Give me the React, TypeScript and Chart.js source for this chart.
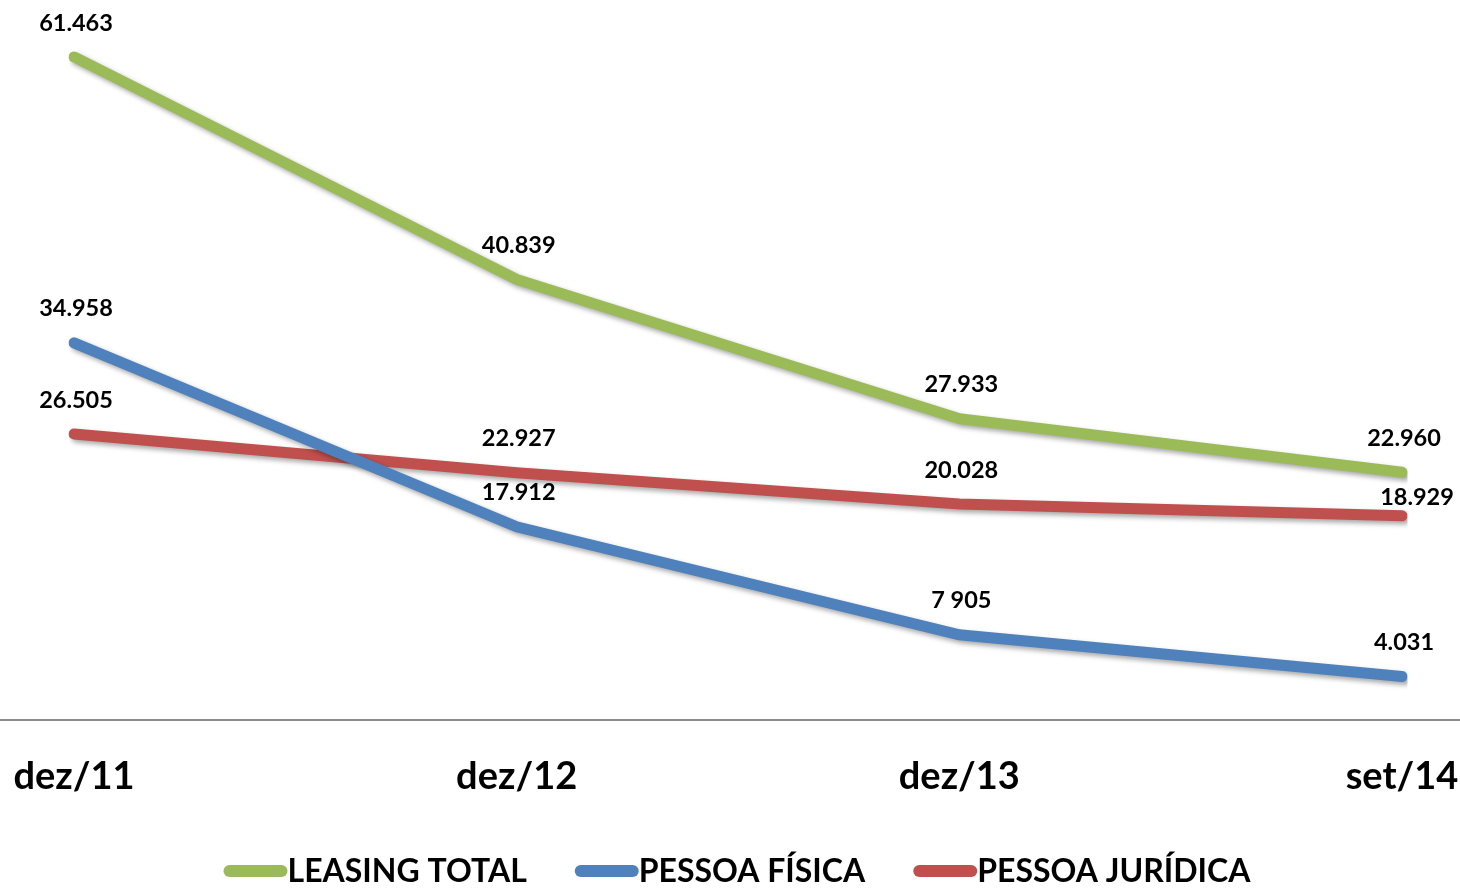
import React, { useEffect, useRef } from "react";
import { Chart, registerables } from "chart.js";

Chart.register(...registerables);

const categories = ["dez/11", "dez/12", "dez/13", "set/14"];
const leasingTotal = [61.463, 40.839, 27.933, 22.96];
const pessoaFisica = [34.958, 17.912, 7.905, 4.031];
const pessoaJuridica = [26.505, 22.927, 20.028, 18.929];
const leasingTotalLabels = ["61.463", "40.839", "27.933", "22.960"];
const pessoaFisicaLabels = ["34.958", "17.912", "7 905", "4.031"];
const pessoaJuridicaLabels = ["26.505", "22.927", "20.028", "18.929"];
const seriesNames = ["LEASING TOTAL", "PESSOA FÍSICA", "PESSOA JURÍDICA"];
const seriesColors = ["#9BBB59", "#4F81BD", "#C0504D"];

const FONT = "Lato, 'Open Sans', sans-serif";

const shadowPlugin = {
  id: "lineShadow",
  beforeDatasetDraw(chart: any) {
    const ctx = chart.ctx;
    ctx.save();
    ctx.shadowColor = "rgba(0,0,0,0.35)";
    ctx.shadowBlur = 5;
    ctx.shadowOffsetX = 3;
    ctx.shadowOffsetY = 3;
  },
  afterDatasetDraw(chart: any) {
    chart.ctx.restore();
  },
};

const axisLinePlugin = {
  id: "axisLine",
  beforeDatasetsDraw(chart: any) {
    const ctx = chart.ctx;
    const y = chart.scales.y.getPixelForValue(0);
    ctx.save();
    ctx.strokeStyle = "#8c8c8c";
    ctx.lineWidth = 2;
    ctx.beginPath();
    ctx.moveTo(0, y);
    ctx.lineTo(chart.width, y);
    ctx.stroke();
    ctx.restore();
  },
};

const labelPlugin = {
  id: "dataLabels",
  afterDatasetsDraw(chart: any) {
    const ctx = chart.ctx;
    ctx.save();
    ctx.font = `bold 23.5px ${FONT}`;
    ctx.fillStyle = "#000";
    ctx.textAlign = "center";
    ctx.textBaseline = "middle";
    chart.data.datasets.forEach((ds: any, di: number) => {
      const meta = chart.getDatasetMeta(di);
      meta.data.forEach((pt: any, i: number) => {
        let dx = 2;
        let dy = -34;
        if (di === 2 && i === 3) {
          dx = 15;
          dy = -18;
        }
        ctx.fillText(ds.labelsText[i], pt.x + dx, pt.y + dy);
      });
    });
    ctx.restore();
  },
};

const legendPlugin = {
  id: "customLegend",
  afterDraw(chart: any) {
    const ctx = chart.ctx;
    ctx.save();
    ctx.font = `bold 32px ${FONT}`;
    const markW = 64;
    const markH = 12;
    const gap = 48;
    const widths = seriesNames.map((n) => ctx.measureText(n).width);
    const total = widths.reduce((a, b) => a + b + markW, 0) + gap * (seriesNames.length - 1);
    let x = chart.width / 2 + 7 - total / 2;
    const cy = 871;
    ctx.textBaseline = "middle";
    ctx.textAlign = "left";
    seriesNames.forEach((n, i) => {
      ctx.fillStyle = seriesColors[i];
      ctx.beginPath();
      const r = markH / 2;
      ctx.moveTo(x + r, cy - r);
      ctx.lineTo(x + markW - r, cy - r);
      ctx.arc(x + markW - r, cy, r, -Math.PI / 2, Math.PI / 2);
      ctx.lineTo(x + r, cy + r);
      ctx.arc(x + r, cy, r, Math.PI / 2, (3 * Math.PI) / 2);
      ctx.closePath();
      ctx.fill();
      ctx.fillStyle = "#000";
      ctx.fillText(n, x + markW, cy + 1);
      x += markW + widths[i] + gap;
    });
    ctx.restore();
  },
};

export default function App() {
  const ref = useRef<HTMLCanvasElement>(null);
  useEffect(() => {
    const mk = (label: string, data: number[], color: string, texts: string[]) => ({
      label,
      data,
      borderColor: color,
      backgroundColor: color,
      borderWidth: 11,
      pointRadius: 0,
      borderCapStyle: "round",
      borderJoinStyle: "miter",
      tension: 0,
      labelsText: texts,
    });
    const chart = new Chart(ref.current!, {
      type: "line",
      data: {
        labels: categories,
        datasets: [
          mk(seriesNames[0], leasingTotal, seriesColors[0], leasingTotalLabels),
          mk(seriesNames[1], pessoaFisica, seriesColors[1], pessoaFisicaLabels),
          mk(seriesNames[2], pessoaJuridica, seriesColors[2], pessoaJuridicaLabels),
        ] as any,
      },
      options: {
        animation: false,
        responsive: false,
        layout: { padding: { left: 74, right: 58, top: 8, bottom: 0 } },
        plugins: { legend: { display: false }, tooltip: { enabled: false } },
        scales: {
          x: {
            grid: { display: false, drawTicks: false },
            border: { display: false },
            ticks: {
              color: "#000",
              padding: 34,
              font: { family: FONT, size: 38, weight: "bold" },
              maxRotation: 0,
            },
            afterFit(scale: any) {
              scale.height = 168;
              scale.paddingLeft = 0;
              scale.paddingRight = 0;
            },
          },
          y: {
            display: false,
            min: 0,
            max: 66,
          },
        },
      },
      plugins: [axisLinePlugin, shadowPlugin, labelPlugin, legendPlugin],
    });
    return () => chart.destroy();
  }, []);
  return (
    <div style={{ position: "absolute", left: 0, top: 0, width: 1460, height: 888, background: "#fff" }}>
      <canvas ref={ref} width={1460} height={888} style={{ display: "block" }} />
    </div>
  );
}
